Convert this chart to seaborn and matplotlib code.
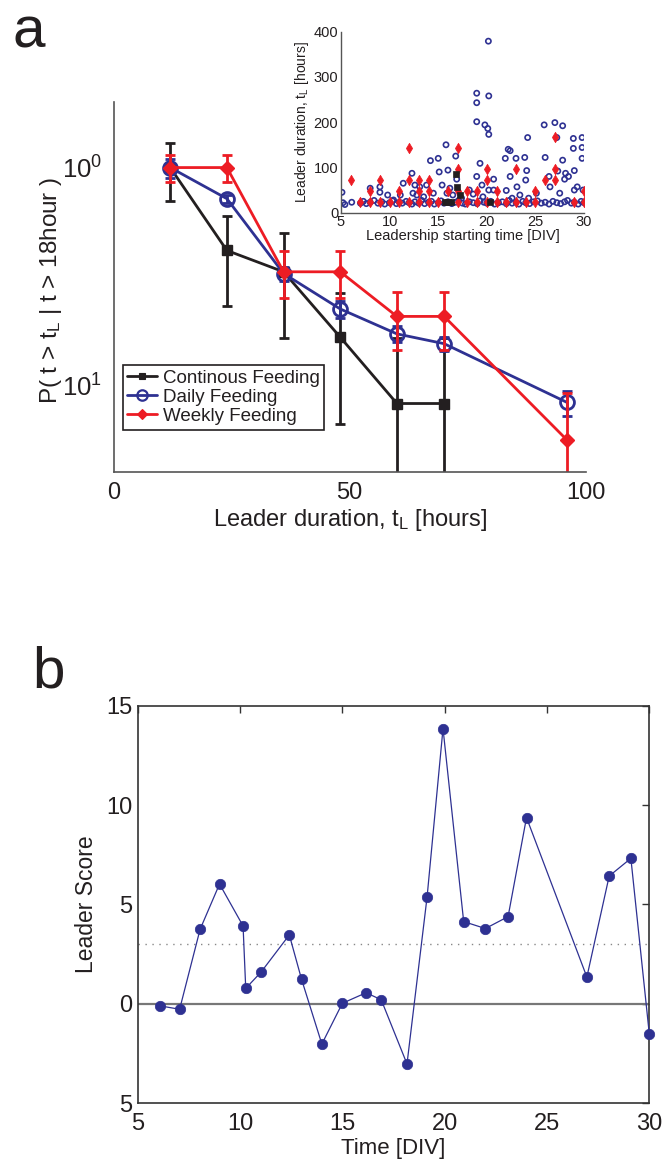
import numpy as np
import pandas as pd
import matplotlib
matplotlib.use("Agg")
import matplotlib.pyplot as plt
import seaborn as sns
from matplotlib.lines import Line2D
from matplotlib.ticker import LogLocator, NullFormatter, FixedLocator, FixedFormatter

# ---------------- data ----------------
# panel a: survival of leadership durations
t_cont = [12, 24, 36, 48, 60, 70]
p_cont = [1.0, 0.417, 0.333, 0.167, 0.083, 0.083]
e_cont = [0.3, 0.186, 0.167, 0.10, 0.083, 0.083]

t_daily = [12, 24, 36, 48, 60, 70, 96]
p_daily = [1.0, 0.72, 0.327, 0.225, 0.173, 0.156, 0.084]
e_daily = [0.10, 0.03, 0.025, 0.02, 0.015, 0.012, 0.011]

t_weekly = [12, 24, 36, 48, 60, 70, 96]
p_weekly = [1.0, 1.0, 0.333, 0.333, 0.208, 0.208, 0.0565]
e_weekly = [0.14, 0.14, 0.08, 0.08, 0.062, 0.062, 0.036]

legend_labels = ["Continous Feeding", "Daily Feeding", "Weekly Feeding"]

# inset: leader duration vs leadership starting time
ins_blue_x = [5.1, 9.0, 9.0, 9.8, 8.0, 10.4, 11.1, 11.4, 12.3, 12.4, 12.6, 12.8, 13.1, 13.5,
              13.8, 14.2, 14.5, 15.0, 15.1, 15.4, 15.8, 15.9, 16.0, 16.2, 16.5, 16.8, 16.9,
              17.4, 18.2, 18.6, 18.96, 18.96, 18.96, 18.96, 19.3, 19.5, 19.6, 19.8, 20.1,
              20.16, 20.2, 20.2, 20.2, 20.7, 20.7, 21.9, 22.0, 22.2, 22.4, 22.4, 22.6, 23.0,
              23.1, 23.4, 23.9, 24.0, 24.1, 24.2, 24.3, 25.1, 25.9, 26.0, 26.4, 26.5, 27.0,
              27.2, 27.3, 27.5, 27.8, 27.8, 28.0, 28.1, 28.4, 28.9, 28.9, 29.0, 29.0, 29.3,
              29.8, 29.8, 29.8, 29.9,
              5.2, 5.4, 6.1, 7.0, 7.3, 7.6, 8.0, 8.4, 8.8, 9.2, 9.5, 10.0, 10.3, 10.7, 11.0,
              11.3, 11.7, 12.0, 12.3, 12.6, 13.0, 13.3, 13.6, 14.0, 14.3, 14.6, 15.0, 15.3,
              15.6, 16.0, 16.4, 16.8, 17.1, 17.5, 17.8, 18.2, 18.6, 19.0, 19.3, 19.7, 20.0,
              20.4, 20.8, 21.2, 21.6, 22.0, 22.3, 22.6, 23.0, 23.3, 23.7, 24.0, 24.4, 24.8,
              25.2, 25.6, 26.0, 26.4, 26.8, 27.2, 27.6, 28.0, 28.3, 28.7, 29.0, 29.4, 29.7,
              30.0]
ins_blue_y = [45, 57, 45, 39, 54, 28, 39, 65, 87, 43, 61, 39, 57, 35,
              61, 115, 43, 120, 90, 61, 150, 43, 94, 54, 39, 125, 74,
              32, 50, 41, 264, 243, 201, 80, 109, 61, 35, 194, 186,
              379, 258, 173, 50, 74, 50, 120, 49, 140, 137, 80, 32, 120,
              57, 39, 122, 72, 93, 166, 32, 43, 194, 122, 80, 57, 199,
              166, 92, 43, 192, 116, 74, 87, 80, 164, 142, 93, 50, 57,
              166, 144, 120, 50,
              22, 18, 23, 21, 25, 20, 23, 27, 21, 24, 19, 22, 26, 20, 23,
              21, 25, 22, 19, 24, 21, 27, 20, 23, 25, 19, 22, 26,
              21, 24, 20, 23, 27, 21, 19, 24, 22, 20, 26, 23, 21,
              25, 19, 22, 24, 20, 27, 21, 23, 19, 25, 22, 20, 24,
              26, 21, 23, 19, 25, 22, 20, 24, 27, 21, 23, 19, 25,
              22]

ins_red_x = [6, 7, 8, 8, 9, 9, 10, 11, 11, 12, 12, 12, 13, 13, 13, 14, 14, 14, 15, 16,
             17, 17, 17, 17, 18, 18, 19, 19, 20, 20, 20, 21, 21, 22, 23, 23, 24, 25, 25,
             26, 27, 27, 27, 29, 30, 30]
ins_red_y = [72, 24, 48, 24, 72, 24, 24, 48, 24, 144, 72, 24, 72, 48, 24, 72, 48, 24, 24, 48,
             144, 96, 48, 24, 48, 24, 48, 24, 96, 72, 24, 48, 24, 24, 96, 24, 24, 48, 24,
             72, 168, 96, 72, 24, 48, 24]

ins_black_x = [15.7, 16.0, 16.3, 16.8, 16.9, 17.2, 20.3]
ins_black_y = [24, 24, 24, 85, 57, 39, 24]

# panel b: leader score over time
time_div = [6.1, 7.05, 8.05, 9.0, 10.15, 10.28, 11.03, 12.41, 13.01, 14.0, 15.0, 16.16,
            16.9, 18.16, 19.14, 19.92, 20.93, 21.99, 23.1, 24.0, 26.95, 28.04, 29.1, 30.0]
leader_score = [-0.1, -0.27, 3.75, 6.03, 3.92, 0.78, 1.6, 3.47, 1.23, -2.02, 0.03, 0.56,
                0.21, -3.02, 5.36, 13.85, 4.14, 3.79, 4.39, 9.37, 1.35, 6.43, 7.32, -1.51]
threshold = 3.0

# ---------------- style ----------------
sns.set_style("white")
plt.rcParams['font.family'] = ['Liberation Sans', 'DejaVu Sans']
plt.rcParams['mathtext.fontset'] = 'custom'
plt.rcParams['mathtext.rm'] = 'Liberation Sans'
plt.rcParams['mathtext.it'] = 'Liberation Sans'
plt.rcParams['mathtext.default'] = 'regular'
TXT = '#231F20'
plt.rcParams['text.color'] = TXT
plt.rcParams['axes.labelcolor'] = TXT
plt.rcParams['xtick.color'] = TXT
plt.rcParams['ytick.color'] = TXT

BLACK = '#231F20'
BLUE = '#2E3192'
RED = '#ED1C24'
SPINE = '#555555'

fig = plt.figure(figsize=(6.68, 11.64), dpi=100)

# ---------------- panel a ----------------
ax = fig.add_axes([0.170, 0.5945, 0.707, 0.318])
ax.set_yscale('log')

series = [
    (t_cont, p_cont, e_cont, BLACK, 's', dict(markersize=6.5, markerfacecolor=BLACK, markeredgecolor=BLACK, markeredgewidth=1)),
    (t_daily, p_daily, e_daily, BLUE, 'o', dict(markersize=10, markerfacecolor='none', markeredgecolor=BLUE, markeredgewidth=2)),
    (t_weekly, p_weekly, e_weekly, RED, 'D', dict(markersize=7, markerfacecolor=RED, markeredgecolor=RED, markeredgewidth=1)),
]
handles = []
for (xs, ys, es, col, mk, mkw), lab in zip(series, legend_labels):
    ax.errorbar(xs, ys, yerr=es, fmt='none', ecolor=col, elinewidth=2, capsize=3.5, capthick=2)
    df = pd.DataFrame({'x': xs, 'y': ys})
    sns.lineplot(data=df, x='x', y='y', ax=ax, color=col, linewidth=2, marker=mk,
                 errorbar=None, **mkw)
    handles.append(Line2D([], [], color=col, linewidth=2, marker=mk,
                          markersize=mkw['markersize'] * 0.75,
                          markerfacecolor=mkw['markerfacecolor'],
                          markeredgecolor=mkw['markeredgecolor'],
                          markeredgewidth=mkw['markeredgewidth'] * 0.8))

ax.set_xlim(0, 100)
ax.set_ylim(0.0403, 2.0)
ax.set_xticks([0, 50, 100])
ax.yaxis.set_major_locator(FixedLocator([0.1, 1.0]))
ax.yaxis.set_major_formatter(FixedFormatter(['$10^{1}$', '$10^{0}$']))
ax.yaxis.set_minor_locator(LogLocator(base=10, subs=np.arange(2, 10)))
ax.yaxis.set_minor_formatter(NullFormatter())
ax.tick_params(axis='x', which='major', direction='in', length=5, width=1, labelsize=17, color=SPINE, pad=7)
ax.tick_params(axis='y', which='major', direction='in', length=5, width=1, labelsize=18.5, color=SPINE, pad=8)
ax.tick_params(axis='y', which='minor', direction='in', length=3, width=0.8, color=SPINE)
for s in ['top', 'right']:
    ax.spines[s].set_visible(False)
for s in ['left', 'bottom']:
    ax.spines[s].set_color(SPINE)
    ax.spines[s].set_linewidth(1.2)
ax.set_xlabel("Leader duration, t$_L$ [hours]", fontsize=17, labelpad=2)
ax.set_ylabel("P( t > t$_L$ | t > 18hour )", fontsize=17.5)
ax.yaxis.set_label_coords(-0.105, 0.49)

leg = ax.legend(handles=handles, labels=legend_labels, loc='upper left',
                bbox_to_anchor=(0.019, 0.289), borderaxespad=0, fontsize=13.5,
                handlelength=1.6, handletextpad=0.3, borderpad=0.25, labelspacing=0.1,
                frameon=True, fancybox=False, framealpha=1)
leg.get_frame().set_edgecolor(BLACK)
leg.get_frame().set_linewidth(1.2)

fig.text(0.018, 1 - 47 / 1164, 'a', fontsize=42, va='baseline', ha='left', color=TXT)

# ---------------- inset ----------------
axi = fig.add_axes([0.5105, 0.8173, 0.3638, 0.1555])
sns.scatterplot(x=ins_blue_x, y=ins_blue_y, ax=axi, marker='o', s=14, color=BLUE,
                facecolors='none', edgecolor=BLUE, linewidth=1.2, zorder=2)
sns.scatterplot(x=ins_red_x, y=ins_red_y, ax=axi, marker='d', s=28, color=RED,
                edgecolor=RED, linewidth=0.5, zorder=3)
sns.scatterplot(x=ins_black_x, y=ins_black_y, ax=axi, marker='s', s=20, color=BLACK,
                edgecolor=BLACK, linewidth=0.5, zorder=4)
axi.set_xlim(5, 30)
axi.set_ylim(0, 400)
axi.set_xticks([5, 10, 15, 20, 25, 30])
axi.set_yticks([0, 100, 200, 300, 400])
axi.tick_params(axis='both', direction='in', length=3, width=0.8, labelsize=10.5, pad=2, color=SPINE)
for s in ['top', 'right']:
    axi.spines[s].set_visible(False)
for s in ['left', 'bottom']:
    axi.spines[s].set_color(SPINE)
    axi.spines[s].set_linewidth(1.0)
axi.set_xlabel("Leadership starting time [DIV]", fontsize=10.5, labelpad=0)
axi.set_ylabel("Leader duration, t$_L$ [hours]", fontsize=10, labelpad=2)
axi.patch.set_alpha(0)

# ---------------- panel b ----------------
axb = fig.add_axes([0.2061, 0.05215, 0.7659, 0.3416])
axb.axhline(0, color='#777777', linewidth=1.6, zorder=1)
axb.axhline(threshold, color='#888888', linewidth=1.0, linestyle=(0, (1, 4)), zorder=1)
dfb = pd.DataFrame({'time': time_div, 'score': leader_score})
sns.lineplot(data=dfb, x='time', y='score', ax=axb, color=BLUE, linewidth=0.9, marker='o',
             markersize=7.5, markerfacecolor=BLUE, markeredgecolor=BLUE, markeredgewidth=0.5,
             errorbar=None, sort=False, clip_on=False, zorder=3)
axb.set_xlim(5, 30)
axb.set_ylim(-5, 15)
axb.set_xticks([5, 10, 15, 20, 25, 30])
axb.yaxis.set_major_locator(FixedLocator([-5, 0, 5, 10, 15]))
axb.yaxis.set_major_formatter(FixedFormatter(['5', '0', '5', '10', '15']))
axb.tick_params(axis='both', direction='in', length=5, width=1, labelsize=17,
                top=True, right=True, color='#333333')
axb.tick_params(axis='x', pad=7)
axb.tick_params(axis='y', pad=4)
for s in axb.spines.values():
    s.set_color('#333333')
    s.set_linewidth(1.2)
axb.set_xlabel("Time [DIV]", fontsize=16, labelpad=2)
axb.set_ylabel("Leader Score", fontsize=16.5, labelpad=6)

fig.text(0.049, 1 - 687 / 1164, 'b', fontsize=42, va='baseline', ha='left', color=TXT)

fig.savefig("out.png", dpi=100)
